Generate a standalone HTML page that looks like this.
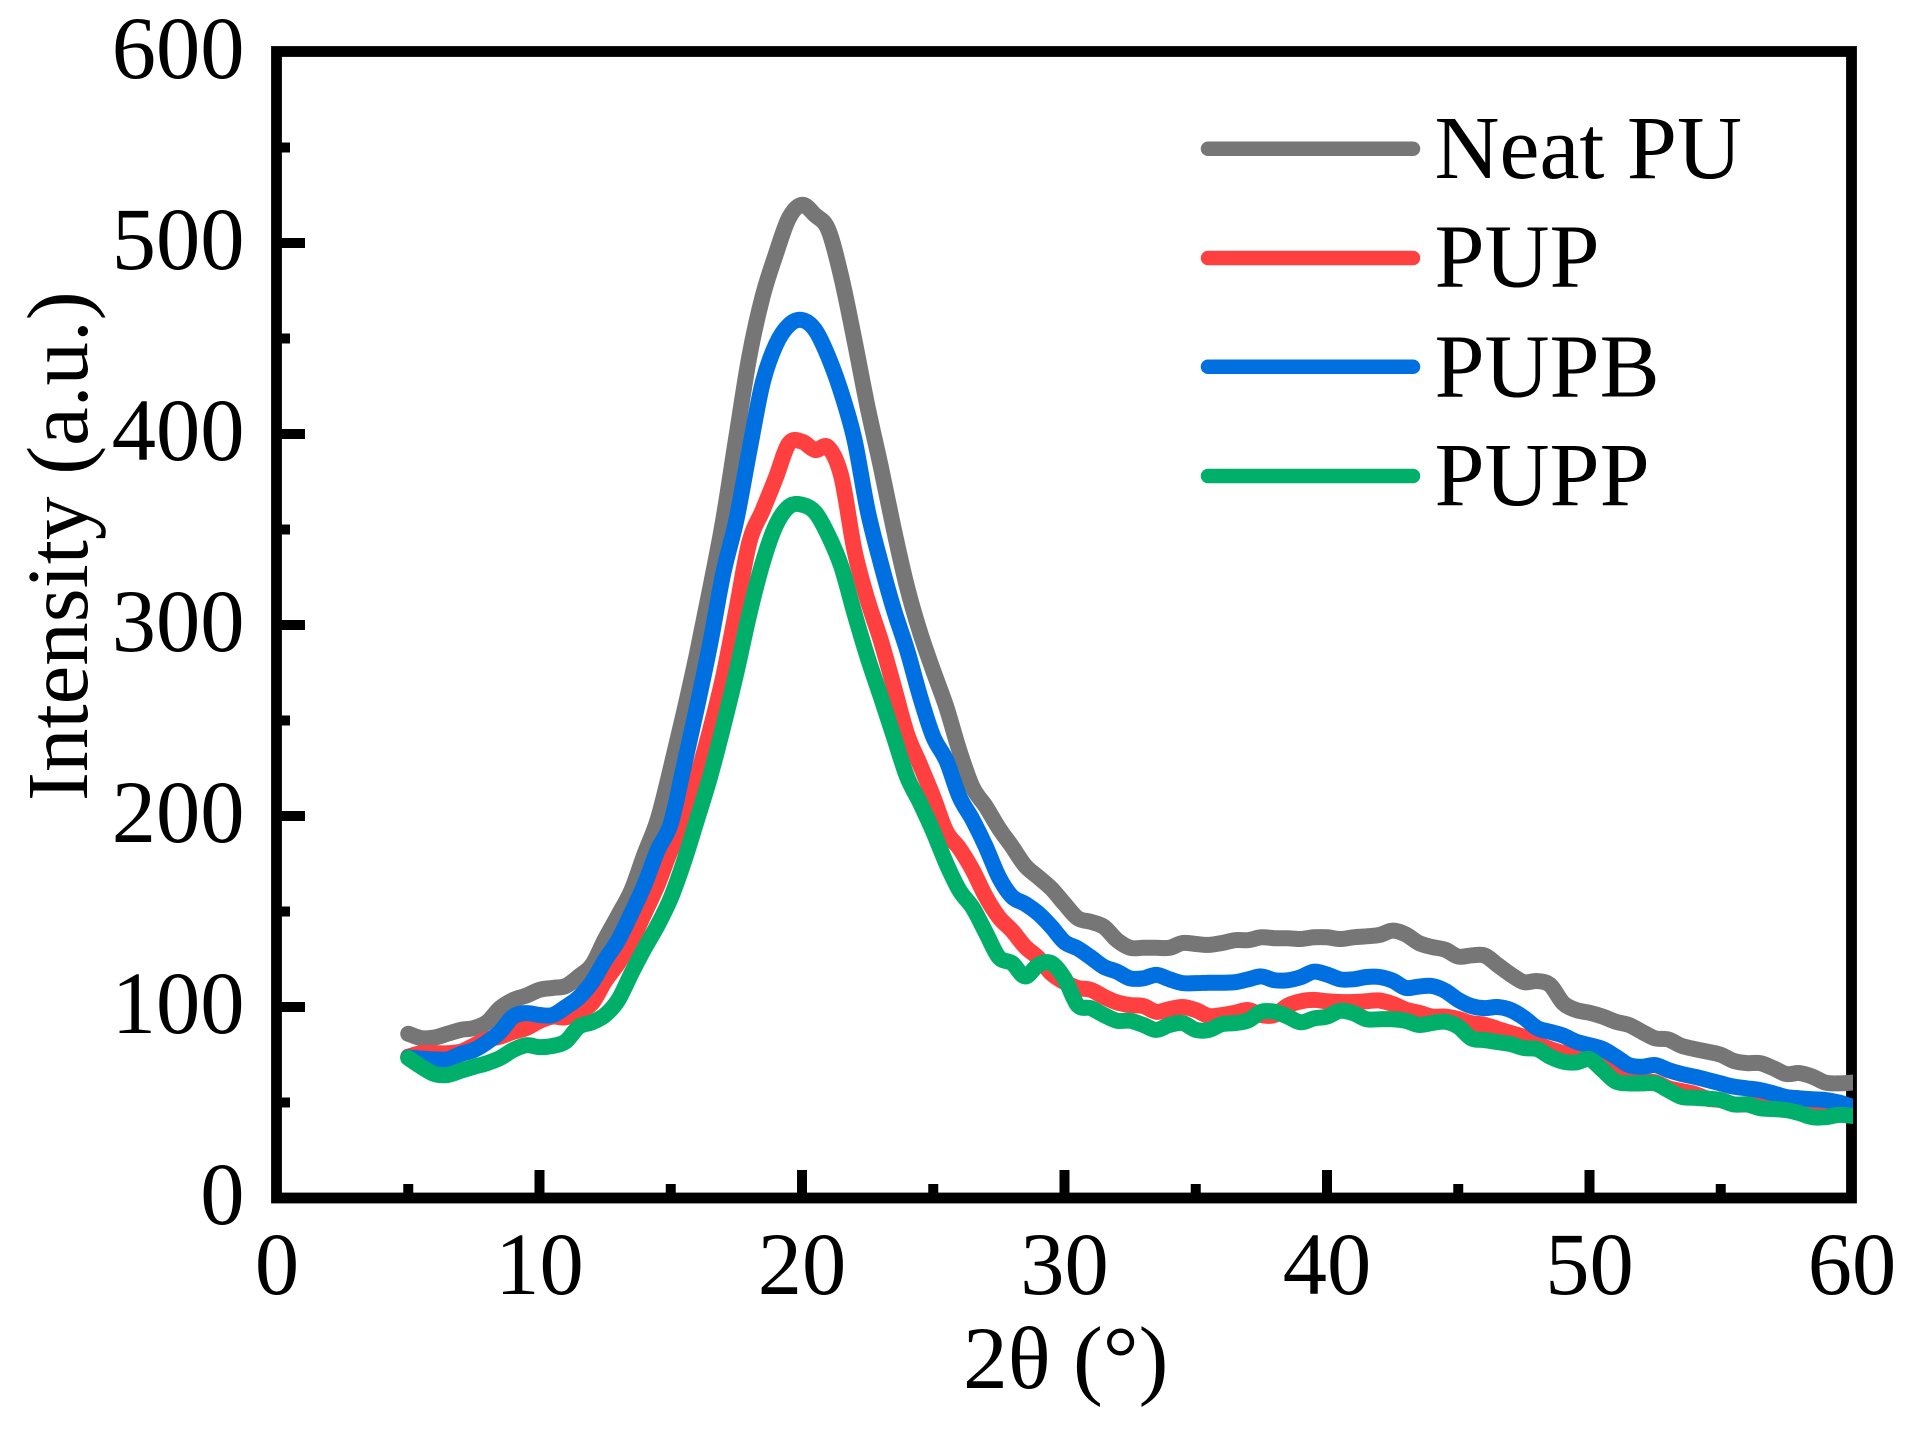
<!DOCTYPE html>
<html lang="en">
<head>
<meta charset="utf-8">
<title>XRD patterns</title>
<style>
html,body{margin:0;padding:0;background:#fff;}
svg{display:block;}
text{font-family:"Liberation Serif",serif;fill:#000;}
</style>
</head>
<body>
<svg id="chart" xmlns="http://www.w3.org/2000/svg" width="1913" height="1431" viewBox="0 0 1913 1431">
<defs><clipPath id="plot-clip"><rect x="0" y="0" width="1853" height="1431"></rect></clipPath></defs>
<rect x="0" y="0" width="1913" height="1431" fill="#fff"></rect>
<rect x="276.5" y="51.5" width="1575" height="1146.5" fill="none" stroke="#000" stroke-width="10.8"></rect>
<g id="ticks"></g>
<g id="labels"></g>
<g id="series" clip-path="url(#plot-clip)"></g>
<text font-size="87" transform="translate(87,801) rotate(-90)">Intensity (a.u.)</text>
<text font-size="89.5" x="963" y="1388">2θ (°)</text>
<g id="legend"></g>
</svg>
<script>
const thetaDeg = [5,5.5,6,6.5,7,7.5,8,8.5,9,9.5,10,10.5,11,11.5,12,12.5,13,13.5,14,14.5,15,15.5,16,16.5,17,17.5,18,18.5,19,19.5,20,20.5,21,21.5,22,22.5,23,23.5,24,24.5,25,25.5,26,26.5,27,27.5,28,28.5,29,29.5,30,30.5,31,31.5,32,32.5,33,33.5,34,34.5,35,35.5,36,36.5,37,37.5,38,38.5,39,39.5,40,40.5,41,41.5,42,42.5,43,43.5,44,44.5,45,45.5,46,46.5,47,47.5,48,48.5,49,49.5,50,50.5,51,51.5,52,52.5,53,53.5,54,54.5,55,55.5,56,56.5,57,57.5,58,58.5,59,59.5,60];
const neatPU = [86,83.7,84,86,88,89,92,99.4,103.7,106,109,110,111,116,122,135.6,148,161,180,198,225,254,285,319,355,398.6,441,472,494,513,520,514.6,507,482,449,414,383,350,320,296,276,257,234,215,205,193.6,184,174,168,162,154,146.5,144.6,142,135,131,131,131,131,133.5,133,132.5,133.5,135,135,136.5,136,136,135.6,136.5,136.5,135.6,136.5,137,137.7,140,138,133.5,131.4,130,126.4,127,127,122,117,113,113.6,111.5,102,98.4,97,95,92.3,90.6,87,83.6,83,79.7,78,76.6,75,71.7,70.6,70.6,68,64.9,65.4,63.5,60.4,60,60.4];
const pup = [74,75.8,75.8,75.8,76.6,79.8,83,84.5,87,89,92.7,95,94.6,98,102,113.6,123,134.6,149,164,182,195,220,245,273,308,343.6,360,377,395,396,391.6,393,377.7,339,313,292,267.7,243,226.7,210,191.8,183,171.7,157.8,147,140,131.6,125.7,117.6,113,110,109,105.4,102.4,101,100.5,97.5,98.9,100,98.4,95.3,95.8,97,98.4,95.8,95.8,100.7,103,103.7,103,102.6,102.6,103,103.4,101.6,98.6,97,95,95,93.7,91.5,90.7,88.5,86.4,84.3,80.6,78,75.9,74.5,74,71,65,61,61,60.6,57.5,56,54.5,52,51.3,49,49,48.7,47,46.6,46,44.4,43.5,44.4,44];
const pupb = [73.6,73,72.6,72.6,75.4,77.5,81.6,87,95,96.8,95.8,95.8,100,105,113,124.6,135,149,164,182,196,226,257,290,327,355,391.6,426.7,446.6,457,459.7,454.5,440.5,421.5,397,360,332.5,308,287,262.5,241.5,229,210,198,184,168,157.8,154,149,142,134,130.7,126,121,118.5,115,115,116.8,114.5,112.5,112.5,112.7,112.7,113,114.5,116,114,114,115.6,118.5,117,114.5,114.5,115.7,115.7,113.8,110,110.7,111,108.5,103.7,100.5,99.4,100,98.4,94.4,89,87,85,81.8,80,78,74,69.6,68.7,69.6,67,65,63.5,61.8,60,58.3,57.4,56.5,54.8,52.8,52.2,51.7,51.3,50,47.8];
const pupp = [73.3,68.7,64.9,64.4,66.6,68.7,70.6,73.3,77.5,80,79,79.6,82,89.7,92,95.8,103.7,117.6,130.7,142.8,157,176,198,220.6,246.8,275,306,332.5,352,362,363,359,347,330.5,306,283,262.5,241.5,220.6,206.8,191.8,175,161,152,139,126,123,116,122,123,115,101,99.4,95.8,92.8,92.8,90.6,88,90.6,91.6,88,88,91,91.6,93,97.5,97.5,95,92,94,95,98,96.8,93.6,93.6,93.6,92.8,90.6,91.6,92.3,89.7,83.6,82.7,81.6,80.6,78.5,78,74,71.4,71,72.7,67,61,60,60,60,56.5,53,52.5,52,51.3,49,49,47,46.6,46,44.4,42.3,42.3,43.5,43];

const xMajorTicks = [0,10,20,30,40,50,60];
const xMinorTicks = [5,15,25,35,45,55];
const yMajorTicks = [0,100,200,300,400,500,600];
const yMinorTicks = [50,150,250,350,450,550];
const legendNames = ["Neat PU","PUP","PUPB","PUPP"];

const NS = "http://www.w3.org/2000/svg";
const xScale = t => 277 + (t - 0) * 26.25;
const yScale = v => 1198 - v * 1.91;

const allSeries = [
  {name:"Neat PU", values:neatPU, color:"#767676"},
  {name:"PUP", values:pup, color:"#FF4040"},
  {name:"PUPB", values:pupb, color:"#0070E0"},
  {name:"PUPP", values:pupp, color:"#00B06A"}
];

function make(tag, attrs, parent){
  const el = document.createElementNS(NS, tag);
  for (const k in attrs) el.setAttribute(k, attrs[k]);
  parent.appendChild(el);
  return el;
}

function smoothPath(values){
  const pts = values.map((v, i) => [xScale(thetaDeg[i]), yScale(v)]);
  let d = "M" + pts[0][0].toFixed(2) + " " + pts[0][1].toFixed(2);
  for (let i = 0; i < pts.length - 1; i++) {
    const p0 = pts[Math.max(i - 1, 0)];
    const p1 = pts[i];
    const p2 = pts[i + 1];
    const p3 = pts[Math.min(i + 2, pts.length - 1)];
    const c1x = p1[0] + (p2[0] - p0[0]) / 6;
    const c1y = p1[1] + (p2[1] - p0[1]) / 6;
    const c2x = p2[0] - (p3[0] - p1[0]) / 6;
    const c2y = p2[1] - (p3[1] - p1[1]) / 6;
    d += " C" + c1x.toFixed(2) + " " + c1y.toFixed(2) + " " + c2x.toFixed(2) + " " + c2y.toFixed(2) + " " + p2[0].toFixed(2) + " " + p2[1].toFixed(2);
  }
  return d;
}

const ticksG = document.getElementById("ticks");
const labelsG = document.getElementById("labels");
const seriesG = document.getElementById("series");
const legendG = document.getElementById("legend");

xMajorTicks.forEach(t => {
  if (t !== 0 && t !== 60) {
    const tick = make("line", {x1:xScale(t), x2:xScale(t), y1:1198, y2:1170, stroke:"#000", "stroke-width":10}, ticksG);
    
    
  }
  const label = make("text", {x:xScale(t), y:1294, "font-size":88.5, "text-anchor":"middle"}, labelsG);
  label.textContent = String(t);
  
  
});
xMinorTicks.forEach(t => {
  const tick = make("line", {x1:xScale(t), x2:xScale(t), y1:1198, y2:1184, stroke:"#000", "stroke-width":10}, ticksG);
  
  
});
yMajorTicks.forEach(v => {
  if (v !== 0 && v !== 600) {
    const tick = make("line", {x1:277, x2:305, y1:yScale(v), y2:yScale(v), stroke:"#000", "stroke-width":10}, ticksG);
    
    
  }
  const label = make("text", {x:244.5, y:yScale(v) + 26, "font-size":88.5, "text-anchor":"end"}, labelsG);
  label.textContent = String(v);
  
  
});
yMinorTicks.forEach(v => {
  const tick = make("line", {x1:277, x2:290, y1:yScale(v), y2:yScale(v), stroke:"#000", "stroke-width":10}, ticksG);
  
  
});

allSeries.forEach(s => {
  const path = make("path", {d:smoothPath(s.values), fill:"none", stroke:s.color, "stroke-width":16, "stroke-linejoin":"round", "stroke-linecap":"round"}, seriesG);
  
  
});

const legendLineY = [148.8, 258, 366.7, 476];
const legendTextY = [178, 286.5, 396.7, 505];
legendNames.forEach((name, i) => {
  const line = make("line", {x1:1208, x2:1413, y1:legendLineY[i], y2:legendLineY[i], stroke:allSeries[i].color, "stroke-width":14.5, "stroke-linecap":"round"}, legendG);
  
  
  const label = make("text", {x:1434.5, y:legendTextY[i], "font-size":90}, legendG);
  label.textContent = name;
  
  
});
</script>
</body>
</html>
